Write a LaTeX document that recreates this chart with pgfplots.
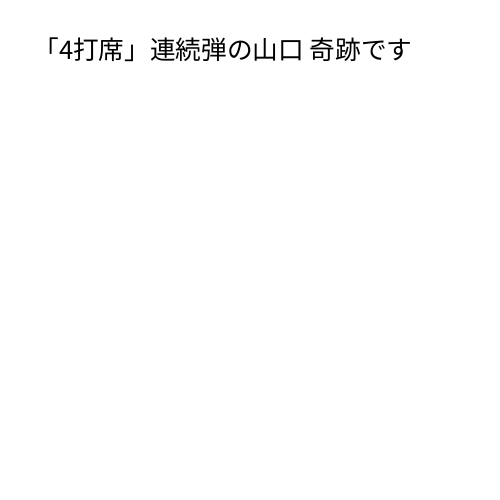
\documentclass[border=0pt]{standalone}
\usepackage{fontspec}
\usepackage{pgfplots}
\pgfplotsset{compat=1.18}
\newfontfamily\cjk{Noto Sans CJK JP}

\begin{document}
\begin{tikzpicture}
\path[use as bounding box, fill=white] (0,0) rectangle (10,10);
\begin{axis}[
  at={(0,0)}, anchor=south west,
  width=10cm, height=10cm, scale only axis,
  hide axis,
  xmin=0, xmax=1, ymin=0, ymax=1,
  title={「4打席」連続弾の山口\ 奇跡です},
  title style={at={(0.066,0.88)}, anchor=west, inner sep=0pt,
    font=\cjk\fontsize{14.6pt}{17pt}\selectfont},
]
\end{axis}
\end{tikzpicture}
\end{document}
